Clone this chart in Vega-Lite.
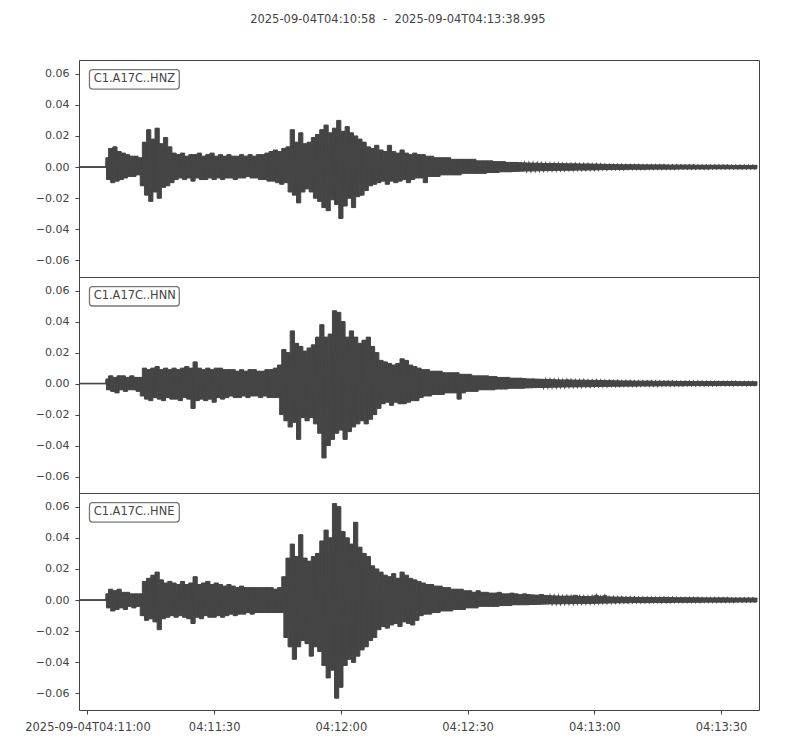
{
  "$schema": "https://vega.github.io/schema/vega-lite/v6.json",
  "background": "#FFFFFF",
  "padding": {"left": 24, "top": 14, "right": 30, "bottom": 5},
  "title": {
    "text": "2025-09-04T04:10:58 \u00a0-\u00a0 2025-09-04T04:13:38.995",
    "font": "DejaVu Sans",
    "fontSize": 11.5,
    "fontWeight": "normal",
    "color": "#444444",
    "anchor": "middle",
    "dx": 6,
    "offset": 34
  },
  "config": {
    "font": "DejaVu Sans",
    "view": {"stroke": "#444444", "strokeWidth": 1},
    "axis": {
      "grid": false,
      "domain": false,
      "ticks": true,
      "tickColor": "#444444",
      "tickSize": 4,
      "labelColor": "#444444",
      "labelFont": "DejaVu Sans",
      "labelOverlap": false
    },
    "axisY": {"labelPadding": 6, "labelFontSize": 11},
    "axisX": {"labelPadding": 7, "labelFontSize": 11.5}
  },
  "datasets": {
    "w": [
      {"t":0,"z":0,"n":0,"e":0},
      {"t":6.4,"z":0,"n":0,"e":0},
      {"t":6.5,"z":0.006,"n":0.003,"e":0.004},
      {"t":7.0,"z":-0.008,"n":-0.004,"e":-0.005},
      {"t":7.5,"z":0.012,"n":0.005,"e":0.007},
      {"t":8.0,"z":-0.010,"n":-0.005,"e":-0.007},
      {"t":8.5,"z":0.013,"n":0.004,"e":0.006},
      {"t":9.0,"z":-0.009,"n":-0.006,"e":-0.006},
      {"t":9.5,"z":0.010,"n":0.005,"e":0.007},
      {"t":10.0,"z":-0.008,"n":-0.004,"e":-0.005},
      {"t":10.5,"z":0.009,"n":0.005,"e":0.005},
      {"t":11.0,"z":-0.007,"n":-0.005,"e":-0.006},
      {"t":11.5,"z":0.008,"n":0.004,"e":0.005},
      {"t":12.0,"z":-0.006,"n":-0.004,"e":-0.004},
      {"t":12.5,"z":0.007,"n":0.005,"e":0.004},
      {"t":13.0,"z":-0.006,"n":-0.004,"e":-0.005},
      {"t":13.5,"z":0.007,"n":0.004,"e":0.004},
      {"t":14.0,"z":-0.005,"n":-0.005,"e":-0.004},
      {"t":14.5,"z":0.006,"n":0.004,"e":0.004},
      {"t":15.0,"z":-0.012,"n":-0.008,"e":-0.010},
      {"t":15.5,"z":0.016,"n":0.010,"e":0.012},
      {"t":16.0,"z":-0.018,"n":-0.010,"e":-0.013},
      {"t":16.5,"z":0.024,"n":0.009,"e":0.014},
      {"t":17.0,"z":-0.022,"n":-0.011,"e":-0.012},
      {"t":17.5,"z":0.018,"n":0.010,"e":0.016},
      {"t":18.0,"z":-0.016,"n":-0.009,"e":-0.014},
      {"t":18.5,"z":0.025,"n":0.011,"e":0.018},
      {"t":19.0,"z":-0.020,"n":-0.010,"e":-0.019},
      {"t":19.5,"z":0.015,"n":0.009,"e":0.013},
      {"t":20.0,"z":-0.013,"n":-0.011,"e":-0.012},
      {"t":20.5,"z":0.019,"n":0.010,"e":0.011},
      {"t":21.0,"z":-0.012,"n":-0.009,"e":-0.011},
      {"t":21.5,"z":0.013,"n":0.009,"e":0.012},
      {"t":22.0,"z":-0.010,"n":-0.010,"e":-0.010},
      {"t":22.5,"z":0.009,"n":0.010,"e":0.011},
      {"t":23.0,"z":-0.008,"n":-0.010,"e":-0.011},
      {"t":23.5,"z":0.008,"n":0.009,"e":0.010},
      {"t":24.0,"z":-0.007,"n":-0.011,"e":-0.010},
      {"t":24.5,"z":0.009,"n":0.010,"e":0.012},
      {"t":25.0,"z":-0.008,"n":-0.009,"e":-0.011},
      {"t":25.5,"z":0.007,"n":0.011,"e":0.010},
      {"t":26.0,"z":-0.007,"n":-0.010,"e":-0.012},
      {"t":26.5,"z":0.008,"n":0.010,"e":0.011},
      {"t":27.0,"z":-0.009,"n":-0.016,"e":-0.015},
      {"t":27.5,"z":0.008,"n":0.014,"e":0.015},
      {"t":28.0,"z":-0.007,"n":-0.011,"e":-0.011},
      {"t":28.5,"z":0.009,"n":0.010,"e":0.010},
      {"t":29.0,"z":-0.008,"n":-0.010,"e":-0.012},
      {"t":29.5,"z":0.007,"n":0.009,"e":0.011},
      {"t":30.0,"z":-0.008,"n":-0.011,"e":-0.010},
      {"t":30.5,"z":0.008,"n":0.010,"e":0.012},
      {"t":31.0,"z":-0.007,"n":-0.010,"e":-0.011},
      {"t":31.5,"z":0.009,"n":0.009,"e":0.010},
      {"t":32.0,"z":-0.008,"n":-0.012,"e":-0.011},
      {"t":32.5,"z":0.007,"n":0.010,"e":0.011},
      {"t":33.0,"z":-0.007,"n":-0.009,"e":-0.010},
      {"t":33.5,"z":0.008,"n":0.010,"e":0.010},
      {"t":34.0,"z":-0.008,"n":-0.010,"e":-0.011},
      {"t":34.5,"z":0.007,"n":0.009,"e":0.009},
      {"t":35.0,"z":-0.007,"n":-0.009,"e":-0.010},
      {"t":35.5,"z":0.008,"n":0.009,"e":0.010},
      {"t":36.0,"z":-0.007,"n":-0.008,"e":-0.009},
      {"t":36.5,"z":0.007,"n":0.009,"e":0.009},
      {"t":37.0,"z":-0.008,"n":-0.009,"e":-0.010},
      {"t":37.5,"z":0.007,"n":0.008,"e":0.008},
      {"t":38.0,"z":-0.007,"n":-0.009,"e":-0.009},
      {"t":38.5,"z":0.008,"n":0.009,"e":0.009},
      {"t":39.0,"z":-0.007,"n":-0.008,"e":-0.009},
      {"t":39.5,"z":0.007,"n":0.008,"e":0.008},
      {"t":40.0,"z":-0.006,"n":-0.009,"e":-0.008},
      {"t":40.5,"z":0.008,"n":0.009,"e":0.008},
      {"t":41.0,"z":-0.007,"n":-0.008,"e":-0.009},
      {"t":41.5,"z":0.007,"n":0.009,"e":0.008},
      {"t":42.0,"z":-0.007,"n":-0.008,"e":-0.008},
      {"t":42.5,"z":0.008,"n":0.008,"e":0.008},
      {"t":43.0,"z":-0.008,"n":-0.009,"e":-0.008},
      {"t":43.5,"z":0.008,"n":0.008,"e":0.008},
      {"t":44.0,"z":-0.008,"n":-0.008,"e":-0.008},
      {"t":44.5,"z":0.009,"n":0.009,"e":0.008},
      {"t":45.0,"z":-0.009,"n":-0.009,"e":-0.008},
      {"t":45.5,"z":0.010,"n":0.009,"e":0.008},
      {"t":46.0,"z":-0.009,"n":-0.009,"e":-0.008},
      {"t":46.5,"z":0.011,"n":0.010,"e":0.007},
      {"t":47.0,"z":-0.010,"n":-0.009,"e":-0.008},
      {"t":47.5,"z":0.010,"n":0.012,"e":0.008},
      {"t":48.0,"z":-0.011,"n":-0.020,"e":-0.008},
      {"t":48.5,"z":0.012,"n":0.022,"e":0.015},
      {"t":49.0,"z":-0.010,"n":-0.024,"e":-0.024},
      {"t":49.5,"z":0.013,"n":0.020,"e":0.027},
      {"t":50.0,"z":-0.016,"n":-0.028,"e":-0.030},
      {"t":50.5,"z":0.024,"n":0.034,"e":0.036},
      {"t":51.0,"z":-0.018,"n":-0.025,"e":-0.038},
      {"t":51.5,"z":0.016,"n":0.026,"e":0.028},
      {"t":52.0,"z":-0.023,"n":-0.036,"e":-0.030},
      {"t":52.5,"z":0.022,"n":0.024,"e":0.042},
      {"t":53.0,"z":-0.016,"n":-0.022,"e":-0.026},
      {"t":53.5,"z":0.015,"n":0.021,"e":0.027},
      {"t":54.0,"z":-0.014,"n":-0.024,"e":-0.028},
      {"t":54.5,"z":0.016,"n":0.023,"e":0.025},
      {"t":55.0,"z":-0.016,"n":-0.022,"e":-0.036},
      {"t":55.5,"z":0.019,"n":0.025,"e":0.028},
      {"t":56.0,"z":-0.020,"n":-0.026,"e":-0.030},
      {"t":56.5,"z":0.021,"n":0.030,"e":0.030},
      {"t":57.0,"z":-0.022,"n":-0.032,"e":-0.033},
      {"t":57.5,"z":0.024,"n":0.038,"e":0.038},
      {"t":58.0,"z":-0.026,"n":-0.048,"e":-0.042},
      {"t":58.5,"z":0.027,"n":0.030,"e":0.045},
      {"t":59.0,"z":-0.028,"n":-0.040,"e":-0.050},
      {"t":59.5,"z":0.022,"n":0.032,"e":0.040},
      {"t":60.0,"z":-0.021,"n":-0.036,"e":-0.045},
      {"t":60.5,"z":0.025,"n":0.047,"e":0.062},
      {"t":61.0,"z":-0.024,"n":-0.032,"e":-0.063},
      {"t":61.5,"z":0.030,"n":0.046,"e":0.060},
      {"t":62.0,"z":-0.033,"n":-0.030,"e":-0.056},
      {"t":62.5,"z":0.023,"n":0.040,"e":0.044},
      {"t":63.0,"z":-0.025,"n":-0.036,"e":-0.042},
      {"t":63.5,"z":0.026,"n":0.030,"e":0.040},
      {"t":64.0,"z":-0.020,"n":-0.031,"e":-0.038},
      {"t":64.5,"z":0.022,"n":0.034,"e":0.036},
      {"t":65.0,"z":-0.026,"n":-0.028,"e":-0.040},
      {"t":65.5,"z":0.020,"n":0.030,"e":0.050},
      {"t":66.0,"z":-0.019,"n":-0.026,"e":-0.036},
      {"t":66.5,"z":0.018,"n":0.026,"e":0.034},
      {"t":67.0,"z":-0.018,"n":-0.024,"e":-0.032},
      {"t":67.5,"z":0.016,"n":0.028,"e":0.030},
      {"t":68.0,"z":-0.015,"n":-0.026,"e":-0.030},
      {"t":68.5,"z":0.013,"n":0.030,"e":0.028},
      {"t":69.0,"z":-0.012,"n":-0.023,"e":-0.026},
      {"t":69.5,"z":0.012,"n":0.024,"e":0.022},
      {"t":70.0,"z":-0.011,"n":-0.020,"e":-0.024},
      {"t":70.5,"z":0.014,"n":0.020,"e":0.020},
      {"t":71.0,"z":-0.010,"n":-0.016,"e":-0.019},
      {"t":71.5,"z":0.011,"n":0.015,"e":0.018},
      {"t":72.0,"z":-0.009,"n":-0.013,"e":-0.017},
      {"t":72.5,"z":0.010,"n":0.014,"e":0.016},
      {"t":73.0,"z":-0.011,"n":-0.012,"e":-0.018},
      {"t":73.5,"z":0.014,"n":0.013,"e":0.015},
      {"t":74.0,"z":-0.009,"n":-0.014,"e":-0.016},
      {"t":74.5,"z":0.010,"n":0.012,"e":0.017},
      {"t":75.0,"z":-0.010,"n":-0.012,"e":-0.015},
      {"t":75.5,"z":0.009,"n":0.013,"e":0.014},
      {"t":76.0,"z":-0.009,"n":-0.013,"e":-0.017},
      {"t":76.5,"z":0.011,"n":0.016,"e":0.018},
      {"t":77.0,"z":-0.008,"n":-0.013,"e":-0.014},
      {"t":77.5,"z":0.009,"n":0.015,"e":0.016},
      {"t":78.0,"z":-0.010,"n":-0.012,"e":-0.015},
      {"t":78.5,"z":0.008,"n":0.012,"e":0.014},
      {"t":79.0,"z":-0.008,"n":-0.011,"e":-0.016},
      {"t":79.5,"z":0.009,"n":0.011,"e":0.013},
      {"t":80.0,"z":-0.007,"n":-0.011,"e":-0.013},
      {"t":80.5,"z":0.008,"n":0.010,"e":0.012},
      {"t":81.0,"z":-0.007,"n":-0.009,"e":-0.010},
      {"t":81.5,"z":0.008,"n":0.009,"e":0.011},
      {"t":82.0,"z":-0.010,"n":-0.008,"e":-0.009},
      {"t":82.5,"z":0.007,"n":0.009,"e":0.010},
      {"t":83.0,"z":-0.006,"n":-0.008,"e":-0.009},
      {"t":83.5,"z":0.007,"n":0.008,"e":0.010},
      {"t":84.0,"z":-0.006,"n":-0.007,"e":-0.008},
      {"t":84.5,"z":0.006,"n":0.008,"e":0.009},
      {"t":85.0,"z":-0.006,"n":-0.007,"e":-0.008},
      {"t":85.5,"z":0.006,"n":0.008,"e":0.009},
      {"t":86.0,"z":-0.005,"n":-0.007,"e":-0.007},
      {"t":86.5,"z":0.006,"n":0.007,"e":0.008},
      {"t":87.0,"z":-0.005,"n":-0.006,"e":-0.007},
      {"t":87.5,"z":0.006,"n":0.007,"e":0.008},
      {"t":88.0,"z":-0.005,"n":-0.006,"e":-0.007},
      {"t":88.5,"z":0.005,"n":0.007,"e":0.007},
      {"t":89.0,"z":-0.005,"n":-0.006,"e":-0.006},
      {"t":89.5,"z":0.005,"n":0.007,"e":0.007},
      {"t":90.0,"z":-0.005,"n":-0.010,"e":-0.006},
      {"t":90.5,"z":0.005,"n":0.006,"e":0.007},
      {"t":91.0,"z":-0.004,"n":-0.006,"e":-0.006},
      {"t":91.5,"z":0.005,"n":0.006,"e":0.006},
      {"t":92.0,"z":-0.004,"n":-0.005,"e":-0.005},
      {"t":92.5,"z":0.005,"n":0.006,"e":0.006},
      {"t":93.0,"z":-0.004,"n":-0.005,"e":-0.005},
      {"t":93.5,"z":0.005,"n":0.005,"e":0.005},
      {"t":94.0,"z":-0.004,"n":-0.005,"e":-0.005},
      {"t":94.5,"z":0.004,"n":0.005,"e":0.006},
      {"t":95.0,"z":-0.004,"n":-0.004,"e":-0.004},
      {"t":95.5,"z":0.004,"n":0.005,"e":0.005},
      {"t":96.0,"z":-0.004,"n":-0.004,"e":-0.004},
      {"t":96.5,"z":0.004,"n":0.005,"e":0.005},
      {"t":97.0,"z":-0.0035,"n":-0.004,"e":-0.004},
      {"t":97.5,"z":0.004,"n":0.0045,"e":0.0045},
      {"t":98.0,"z":-0.0035,"n":-0.004,"e":-0.004},
      {"t":98.5,"z":0.0035,"n":0.0045,"e":0.0045},
      {"t":99.0,"z":-0.0035,"n":-0.0035,"e":-0.004},
      {"t":99.5,"z":0.0035,"n":0.004,"e":0.005},
      {"t":100.0,"z":-0.003,"n":-0.0035,"e":-0.0035},
      {"t":100.5,"z":0.0035,"n":0.004,"e":0.004},
      {"t":101.0,"z":-0.003,"n":-0.0035,"e":-0.0035},
      {"t":101.5,"z":0.003,"n":0.004,"e":0.004},
      {"t":102.0,"z":-0.003,"n":-0.003,"e":-0.0035},
      {"t":102.5,"z":0.003,"n":0.0035,"e":0.0045},
      {"t":103.0,"z":-0.0028,"n":-0.003,"e":-0.003},
      {"t":103.5,"z":0.003,"n":0.0035,"e":0.004},
      {"t":104.0,"z":-0.0027,"n":-0.003,"e":-0.003},
      {"t":104.5,"z":0.0028,"n":0.0035,"e":0.0035},
      {"t":105.0,"z":-0.0026,"n":-0.003,"e":-0.003},
      {"t":105.5,"z":0.0027,"n":0.0032,"e":0.004},
      {"t":106.0,"z":-0.0025,"n":-0.0028,"e":-0.003},
      {"t":106.5,"z":0.0026,"n":0.003,"e":0.0035},
      {"t":107.0,"z":-0.0025,"n":-0.0027,"e":-0.0028},
      {"t":107.5,"z":0.0025,"n":0.003,"e":0.0033},
      {"t":108.0,"z":-0.0024,"n":-0.0026,"e":-0.0028},
      {"t":108.5,"z":0.0025,"n":0.0029,"e":0.0032},
      {"t":109.0,"z":-0.0023,"n":-0.0025,"e":-0.0027},
      {"t":109.5,"z":0.0024,"n":0.0028,"e":0.0036},
      {"t":110.0,"z":-0.0023,"n":-0.0025,"e":-0.0026},
      {"t":110.5,"z":0.0023,"n":0.0027,"e":0.003},
      {"t":111.0,"z":-0.0022,"n":-0.0024,"e":-0.0025},
      {"t":111.5,"z":0.0023,"n":0.0026,"e":0.0028},
      {"t":112.0,"z":-0.0022,"n":-0.0023,"e":-0.0024},
      {"t":112.5,"z":0.0023,"n":0.0025,"e":0.0027},
      {"t":113.0,"z":-0.0021,"n":-0.0023,"e":-0.0024},
      {"t":113.5,"z":0.0022,"n":0.0024,"e":0.0026},
      {"t":114.0,"z":-0.0021,"n":-0.0022,"e":-0.0024},
      {"t":114.5,"z":0.0022,"n":0.0023,"e":0.0025},
      {"t":115.0,"z":-0.002,"n":-0.0022,"e":-0.0023},
      {"t":115.5,"z":0.0021,"n":0.0024,"e":0.0026},
      {"t":116.0,"z":-0.002,"n":-0.0021,"e":-0.0023},
      {"t":116.5,"z":0.0021,"n":0.0023,"e":0.0025},
      {"t":117.0,"z":-0.002,"n":-0.0021,"e":-0.0022},
      {"t":117.5,"z":0.0021,"n":0.0022,"e":0.0031},
      {"t":118.0,"z":-0.0019,"n":-0.0021,"e":-0.0022},
      {"t":118.5,"z":0.002,"n":0.0022,"e":0.0024},
      {"t":119.0,"z":-0.0019,"n":-0.002,"e":-0.0022},
      {"t":119.5,"z":0.002,"n":0.0022,"e":0.0023},
      {"t":120.0,"z":-0.0019,"n":-0.002,"e":-0.0021},
      {"t":120.5,"z":0.002,"n":0.0021,"e":0.0023},
      {"t":121.0,"z":-0.0018,"n":-0.002,"e":-0.0021},
      {"t":121.5,"z":0.0019,"n":0.0021,"e":0.0024},
      {"t":122.0,"z":-0.0018,"n":-0.0019,"e":-0.0021},
      {"t":122.5,"z":0.0019,"n":0.0021,"e":0.003},
      {"t":123.0,"z":-0.0017,"n":-0.0019,"e":-0.002},
      {"t":123.5,"z":0.0018,"n":0.002,"e":0.0022},
      {"t":124.0,"z":-0.0016,"n":-0.0018,"e":-0.0019},
      {"t":124.5,"z":0.0017,"n":0.0019,"e":0.0028},
      {"t":125.0,"z":-0.0016,"n":-0.0018,"e":-0.0019},
      {"t":125.5,"z":0.0016,"n":0.0019,"e":0.002},
      {"t":126.0,"z":-0.0015,"n":-0.0017,"e":-0.0018},
      {"t":126.5,"z":0.0016,"n":0.0018,"e":0.002},
      {"t":127.0,"z":-0.0015,"n":-0.0017,"e":-0.0018},
      {"t":127.5,"z":0.0016,"n":0.0018,"e":0.0019},
      {"t":128.0,"z":-0.0015,"n":-0.0017,"e":-0.0017},
      {"t":128.5,"z":0.0015,"n":0.0017,"e":0.0019},
      {"t":129.0,"z":-0.0015,"n":-0.0016,"e":-0.0017},
      {"t":129.5,"z":0.0015,"n":0.0017,"e":0.0018},
      {"t":130.0,"z":-0.0014,"n":-0.0016,"e":-0.0017},
      {"t":130.5,"z":0.0015,"n":0.0017,"e":0.0018},
      {"t":131.0,"z":-0.0014,"n":-0.0016,"e":-0.0016},
      {"t":131.5,"z":0.0015,"n":0.0016,"e":0.0018},
      {"t":132.0,"z":-0.0014,"n":-0.0016,"e":-0.0016},
      {"t":132.5,"z":0.0015,"n":0.0016,"e":0.0017},
      {"t":133.0,"z":-0.0014,"n":-0.0015,"e":-0.0016},
      {"t":133.5,"z":0.0014,"n":0.0016,"e":0.0017},
      {"t":134.0,"z":-0.0014,"n":-0.0015,"e":-0.0016},
      {"t":134.5,"z":0.0014,"n":0.0016,"e":0.0017},
      {"t":135.0,"z":-0.0013,"n":-0.0015,"e":-0.0016},
      {"t":135.5,"z":0.0014,"n":0.0016,"e":0.0017},
      {"t":136.0,"z":-0.0013,"n":-0.0015,"e":-0.0015},
      {"t":136.5,"z":0.0014,"n":0.0015,"e":0.0016},
      {"t":137.0,"z":-0.0013,"n":-0.0015,"e":-0.0015},
      {"t":137.5,"z":0.0014,"n":0.0015,"e":0.0016},
      {"t":138.0,"z":-0.0013,"n":-0.0014,"e":-0.0015},
      {"t":138.5,"z":0.0014,"n":0.0015,"e":0.0016},
      {"t":139.0,"z":-0.0013,"n":-0.0014,"e":-0.0015},
      {"t":139.5,"z":0.0013,"n":0.0015,"e":0.0016},
      {"t":140.0,"z":-0.0013,"n":-0.0014,"e":-0.0015},
      {"t":140.5,"z":0.0013,"n":0.0015,"e":0.0016},
      {"t":141.0,"z":-0.0013,"n":-0.0014,"e":-0.0014},
      {"t":141.5,"z":0.0013,"n":0.0014,"e":0.0015},
      {"t":142.0,"z":-0.0012,"n":-0.0014,"e":-0.0014},
      {"t":142.5,"z":0.0013,"n":0.0014,"e":0.0015},
      {"t":143.0,"z":-0.0012,"n":-0.0014,"e":-0.0014},
      {"t":143.5,"z":0.0013,"n":0.0014,"e":0.0015},
      {"t":144.0,"z":-0.0012,"n":-0.0013,"e":-0.0014},
      {"t":144.5,"z":0.0013,"n":0.0014,"e":0.0015},
      {"t":145.0,"z":-0.0012,"n":-0.0013,"e":-0.0014},
      {"t":145.5,"z":0.0013,"n":0.0014,"e":0.0015},
      {"t":146.0,"z":-0.0012,"n":-0.0013,"e":-0.0014},
      {"t":146.5,"z":0.0012,"n":0.0014,"e":0.0015},
      {"t":147.0,"z":-0.0012,"n":-0.0013,"e":-0.0014},
      {"t":147.5,"z":0.0012,"n":0.0014,"e":0.0014},
      {"t":148.0,"z":-0.0012,"n":-0.0013,"e":-0.0013},
      {"t":148.5,"z":0.0012,"n":0.0013,"e":0.0014},
      {"t":149.0,"z":-0.0012,"n":-0.0013,"e":-0.0013},
      {"t":149.5,"z":0.0012,"n":0.0013,"e":0.0014},
      {"t":150.0,"z":-0.0011,"n":-0.0013,"e":-0.0013},
      {"t":150.5,"z":0.0012,"n":0.0013,"e":0.0014},
      {"t":151.0,"z":-0.0011,"n":-0.0013,"e":-0.0013},
      {"t":151.5,"z":0.0012,"n":0.0013,"e":0.0014},
      {"t":152.0,"z":-0.0011,"n":-0.0012,"e":-0.0013},
      {"t":152.5,"z":0.0012,"n":0.0013,"e":0.0014},
      {"t":153.0,"z":-0.0011,"n":-0.0012,"e":-0.0013},
      {"t":153.5,"z":0.0012,"n":0.0013,"e":0.0014},
      {"t":154.0,"z":-0.0011,"n":-0.0012,"e":-0.0013},
      {"t":154.5,"z":0.0011,"n":0.0013,"e":0.0013},
      {"t":155.0,"z":-0.0011,"n":-0.0012,"e":-0.0013},
      {"t":155.5,"z":0.0011,"n":0.0013,"e":0.0013},
      {"t":156.0,"z":-0.0011,"n":-0.0012,"e":-0.0012},
      {"t":156.5,"z":0.0011,"n":0.0012,"e":0.0013},
      {"t":157.0,"z":-0.0011,"n":-0.0012,"e":-0.0012},
      {"t":157.5,"z":0.0011,"n":0.0012,"e":0.0013},
      {"t":158.0,"z":-0.0011,"n":-0.0012,"e":-0.0012},
      {"t":158.5,"z":0.0011,"n":0.0012,"e":0.0013},
      {"t":159.0,"z":-0.0011,"n":-0.0012,"e":-0.0012},
      {"t":159.5,"z":0.0011,"n":0.0012,"e":0.0013},
      {"t":160.0,"z":-0.0011,"n":-0.0012,"e":-0.0012},
      {"t":160.5,"z":0.0011,"n":0.0012,"e":0.0013}
    ]
  },
  "spacing": 0,
  "bounds": "flush",
  "vconcat": [
    {
      "width": 680,
      "height": 217,
      "data": {"name": "w"},
      "layer": [
        {
          "transform": [{"window": [{"op": "lead", "field": "t", "as": "t2"}, {"op": "lead", "field": "z", "as": "v2"}], "sort": [{"field": "t", "order": "ascending"}]}],
          "mark": {"type": "rect", "color": "#454545", "stroke": "#454545", "strokeWidth": 1, "clip": true},
          "encoding": {
            "x": {"field": "t", "type": "quantitative", "scale": {"domain": [0, 160.995], "nice": false}, "axis": null},
            "x2": {"field": "t2"},
            "y": {"field": "z", "type": "quantitative", "axis": {"title": null, "values": [-0.06, -0.04, -0.02, 0, 0.02, 0.04, 0.06], "tickCount": 20, "format": ".2f", "labelOverlap": false}},
            "y2": {"field": "v2"}
          }
        },
        {
          "mark": {"type": "line", "color": "#454545", "strokeWidth": 1.5, "clip": true},
          "encoding": {
            "x": {"field": "t", "type": "quantitative", "scale": {"domain": [0, 160.995], "nice": false}, "axis": null},
            "y": {
              "field": "z", "type": "quantitative",
              "scale": {"domain": [-0.0706, 0.0688], "nice": false},
              "axis": {"title": null, "values": [-0.06, -0.04, -0.02, 0, 0.02, 0.04, 0.06], "tickCount": 20, "format": ".2f", "labelOverlap": false}
            }
          }
        },
        {
          "data": {"values": [{"label": "C1.A17C..HNZ"}]},
          "mark": {"type": "rect", "fill": "#FFFFFF", "stroke": "#777777", "strokeWidth": 1.3, "cornerRadius": 3},
          "encoding": {
            "x": {"datum": 2.48, "type": "quantitative", "axis": null},
            "x2": {"datum": 23.74},
            "y": {"datum": 0.0626, "type": "quantitative"},
            "y2": {"datum": 0.0501}
          }
        },
        {
          "data": {"values": [{"label": "C1.A17C..HNZ"}]},
          "mark": {"type": "text", "align": "left", "baseline": "middle", "fontSize": 11.4, "color": "#444444"},
          "encoding": {
            "x": {"datum": 3.5, "type": "quantitative", "axis": null},
            "y": {"datum": 0.0564, "type": "quantitative"},
            "text": {"field": "label"}
          }
        }
      ]
    },
    {
      "width": 680,
      "height": 216,
      "data": {"name": "w"},
      "layer": [
        {
          "transform": [{"window": [{"op": "lead", "field": "t", "as": "t2"}, {"op": "lead", "field": "n", "as": "v2"}], "sort": [{"field": "t", "order": "ascending"}]}],
          "mark": {"type": "rect", "color": "#454545", "stroke": "#454545", "strokeWidth": 1, "clip": true},
          "encoding": {
            "x": {"field": "t", "type": "quantitative", "scale": {"domain": [0, 160.995], "nice": false}, "axis": null},
            "x2": {"field": "t2"},
            "y": {"field": "n", "type": "quantitative", "axis": {"title": null, "values": [-0.06, -0.04, -0.02, 0, 0.02, 0.04, 0.06], "tickCount": 20, "format": ".2f", "labelOverlap": false}},
            "y2": {"field": "v2"}
          }
        },
        {
          "mark": {"type": "line", "color": "#454545", "strokeWidth": 1.5, "clip": true},
          "encoding": {
            "x": {"field": "t", "type": "quantitative", "scale": {"domain": [0, 160.995], "nice": false}, "axis": null},
            "y": {
              "field": "n", "type": "quantitative",
              "scale": {"domain": [-0.0706, 0.0688], "nice": false},
              "axis": {"title": null, "values": [-0.06, -0.04, -0.02, 0, 0.02, 0.04, 0.06], "tickCount": 20, "format": ".2f", "labelOverlap": false}
            }
          }
        },
        {
          "data": {"values": [{"label": "C1.A17C..HNN"}]},
          "mark": {"type": "rect", "fill": "#FFFFFF", "stroke": "#777777", "strokeWidth": 1.3, "cornerRadius": 3},
          "encoding": {
            "x": {"datum": 2.48, "type": "quantitative", "axis": null},
            "x2": {"datum": 23.74},
            "y": {"datum": 0.0626, "type": "quantitative"},
            "y2": {"datum": 0.0501}
          }
        },
        {
          "data": {"values": [{"label": "C1.A17C..HNN"}]},
          "mark": {"type": "text", "align": "left", "baseline": "middle", "fontSize": 11.4, "color": "#444444"},
          "encoding": {
            "x": {"datum": 3.5, "type": "quantitative", "axis": null},
            "y": {"datum": 0.0564, "type": "quantitative"},
            "text": {"field": "label"}
          }
        }
      ]
    },
    {
      "width": 680,
      "height": 217,
      "data": {"name": "w"},
      "layer": [
        {
          "transform": [{"window": [{"op": "lead", "field": "t", "as": "t2"}, {"op": "lead", "field": "e", "as": "v2"}], "sort": [{"field": "t", "order": "ascending"}]}],
          "mark": {"type": "rect", "color": "#454545", "stroke": "#454545", "strokeWidth": 1, "clip": true},
          "encoding": {
            "x": {"field": "t", "type": "quantitative", "scale": {"domain": [0, 160.995], "nice": false}},
            "x2": {"field": "t2"},
            "y": {"field": "e", "type": "quantitative", "axis": {"title": null, "values": [-0.06, -0.04, -0.02, 0, 0.02, 0.04, 0.06], "tickCount": 20, "format": ".2f", "labelOverlap": false}},
            "y2": {"field": "v2"}
          }
        },
        {
          "mark": {"type": "line", "color": "#454545", "strokeWidth": 1.5, "clip": true},
          "encoding": {
            "x": {
              "field": "t", "type": "quantitative",
              "scale": {"domain": [0, 160.995], "nice": false},
              "axis": {
                "title": null,
                "values": [2, 32, 62, 92, 122, 152],
                "tickCount": 20,
                "labelExpr": "datum.value == 2 ? '2025-09-04T04:11:00' : timeFormat(datetime(2025, 8, 4, 4, 10, 58 + datum.value), '%H:%M:%S')"
              }
            },
            "y": {
              "field": "e", "type": "quantitative",
              "scale": {"domain": [-0.0706, 0.0688], "nice": false},
              "axis": {"title": null, "values": [-0.06, -0.04, -0.02, 0, 0.02, 0.04, 0.06], "tickCount": 20, "format": ".2f", "labelOverlap": false}
            }
          }
        },
        {
          "data": {"values": [{"label": "C1.A17C..HNE"}]},
          "mark": {"type": "rect", "fill": "#FFFFFF", "stroke": "#777777", "strokeWidth": 1.3, "cornerRadius": 3},
          "encoding": {
            "x": {"datum": 2.48, "type": "quantitative"},
            "x2": {"datum": 23.74},
            "y": {"datum": 0.0626, "type": "quantitative"},
            "y2": {"datum": 0.0501}
          }
        },
        {
          "data": {"values": [{"label": "C1.A17C..HNE"}]},
          "mark": {"type": "text", "align": "left", "baseline": "middle", "fontSize": 11.4, "color": "#444444"},
          "encoding": {
            "x": {"datum": 3.5, "type": "quantitative"},
            "y": {"datum": 0.0564, "type": "quantitative"},
            "text": {"field": "label"}
          }
        }
      ]
    }
  ]
}
